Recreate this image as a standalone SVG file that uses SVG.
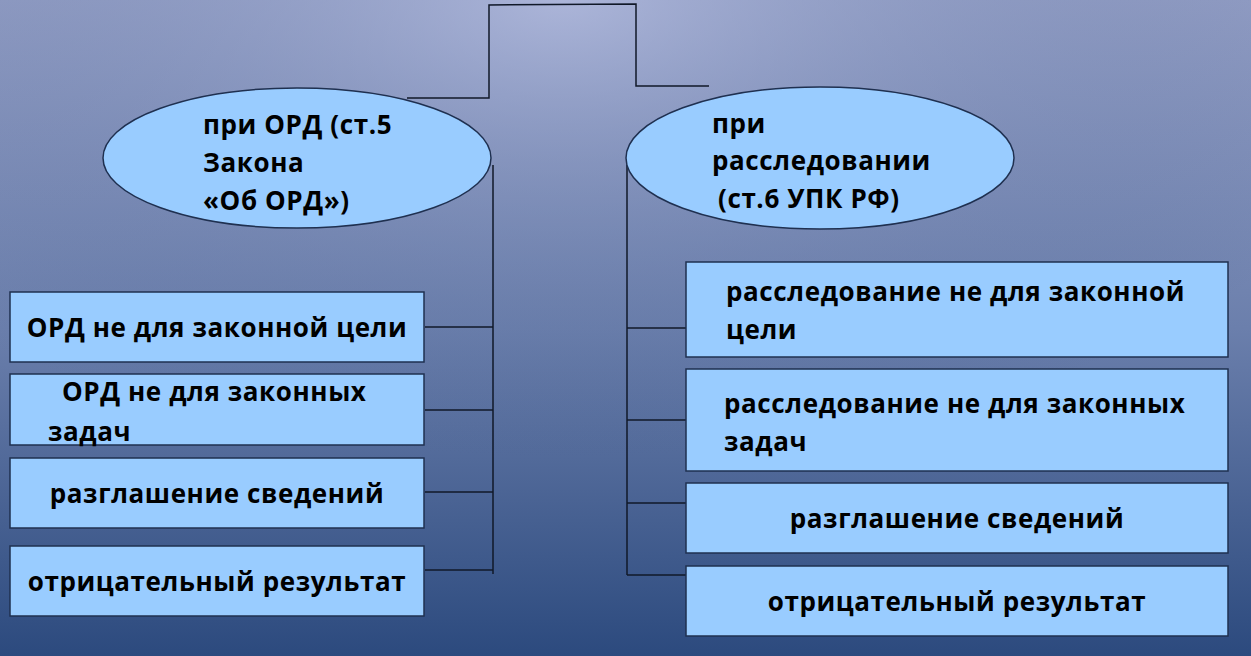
<svg xmlns="http://www.w3.org/2000/svg" width="1251" height="656" viewBox="0 0 1251 656">
<defs>
<linearGradient id="bg" x1="0" y1="0" x2="0" y2="1">
<stop offset="0" stop-color="#98a2c8"/><stop offset="0.5" stop-color="#6b7fac"/><stop offset="1" stop-color="#2c4a7e"/>
</linearGradient>
<radialGradient id="glow" cx="0.45" cy="0" r="0.7">
<stop offset="0" stop-color="#b4bde0" stop-opacity="0.7"/><stop offset="1" stop-color="#3a5588" stop-opacity="0"/>
</radialGradient>
</defs>
<style>
.n{fill:#99ccff;stroke:#1f3050;stroke-width:1.5}
.t{font-family:"Open Sans","DejaVu Sans",sans-serif;font-weight:bold;font-size:26px;letter-spacing:0.6px;fill:#000}
.c{fill:none;stroke:#101828;stroke-width:1.5}
</style>
<rect width="1251" height="656" fill="url(#bg)"/>
<rect width="1251" height="656" fill="url(#glow)"/>
<g id="connectors">
<polyline class="c" points="407,98 489,98 489,5 636,4 636,86 709,86"/>
<polyline class="c" points="493,165 493,574"/>
<line class="c" x1="425" y1="327" x2="493" y2="327"/>
<line class="c" x1="425" y1="410" x2="493" y2="410"/>
<line class="c" x1="425" y1="492" x2="493" y2="492"/>
<line class="c" x1="425" y1="570" x2="493" y2="570"/>
<polyline class="c" points="627,165 627,575"/>
<line class="c" x1="627" y1="328" x2="688" y2="328"/>
<line class="c" x1="627" y1="420" x2="688" y2="420"/>
<line class="c" x1="627" y1="503" x2="688" y2="503"/>
<line class="c" x1="627" y1="575" x2="688" y2="575"/>
</g>
<g id="e1"><ellipse class="n" cx="297" cy="158" rx="194" ry="70"/>
<text class="t"><tspan x="203" y="134">при ОРД (ст.5</tspan><tspan x="203" y="172">Закона</tspan><tspan x="203" y="210">«Об ОРД»)</tspan></text></g>
<g id="e2"><ellipse class="n" cx="820" cy="158" rx="194" ry="71"/>
<text class="t"><tspan x="712" y="133">при</tspan><tspan x="712" y="170">расследовании</tspan><tspan x="718" y="208">(ст.6 УПК РФ)</tspan></text></g>
<g id="l1"><rect class="n" x="10" y="292" width="414" height="70"/><text class="t" x="217" y="337" text-anchor="middle">ОРД не для законной цели</text></g>
<g id="l2"><rect class="n" x="10" y="374" width="414" height="71"/><text class="t"><tspan x="62" y="401">ОРД не для законных</tspan><tspan x="48" y="441">задач</tspan></text></g>
<g id="l3"><rect class="n" x="10" y="458" width="414" height="70"/><text class="t" x="217" y="503" text-anchor="middle">разглашение сведений</text></g>
<g id="l4"><rect class="n" x="10" y="546" width="414" height="70"/><text class="t" x="217" y="591" text-anchor="middle">отрицательный результат</text></g>
<g id="r1"><rect class="n" x="686" y="262" width="542" height="95"/><text class="t"><tspan x="726" y="301">расследование не для законной</tspan><tspan x="726" y="339">цели</tspan></text></g>
<g id="r2"><rect class="n" x="686" y="369" width="542" height="102"/><text class="t"><tspan x="724" y="413">расследование не для законных</tspan><tspan x="724" y="451">задач</tspan></text></g>
<g id="r3"><rect class="n" x="686" y="483" width="542" height="70"/><text class="t" x="957" y="528" text-anchor="middle">разглашение сведений</text></g>
<g id="r4"><rect class="n" x="686" y="566" width="542" height="70"/><text class="t" x="957" y="611" text-anchor="middle">отрицательный результат</text></g>
</svg>
